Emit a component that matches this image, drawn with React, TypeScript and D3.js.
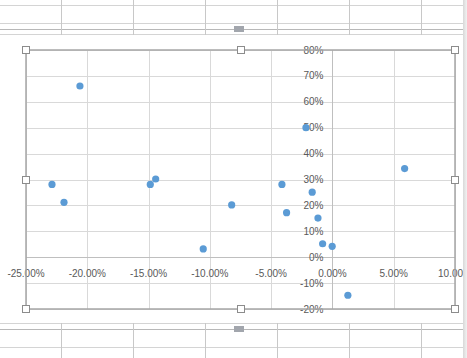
import * as d3 from "d3";
import { useEffect, useRef } from "react";

const xValues = [
  -20.6, -22.88, -21.9, -14.86, -14.42, -10.54, -8.22, -4.12, -3.74, -2.16,
  -1.65, -1.18, -0.8, -0.02, 1.26, 5.89,
];
const yValues = [
  66.1, 28.1, 21.2, 28.1, 30.2, 3.2, 20.2, 28.1, 17.2, 50.0, 25.1, 15.1, 5.2,
  4.2, -14.7, 34.2,
];
const xTicks = [-25, -20, -15, -10, -5, 0, 5, 10];
const yTicks = [-20, -10, 0, 10, 20, 30, 40, 50, 60, 70, 80];
const sheetCols = [61, 133, 205, 277, 349, 421];

const width = 467;
const height = 358;
const marginLeft = 26;
const marginRight = 12;
const marginTop = 50;
const marginBottom = 49;

export default function App() {
  const ref = useRef<SVGSVGElement>(null);

  useEffect(() => {
    const svg = d3.select(ref.current);
    svg.selectAll("*").remove();

    const x = d3.scaleLinear([-25, 10], [marginLeft, width - marginRight]);
    const y = d3.scaleLinear([-20, 80], [height - marginBottom, marginTop]);
    const font = "'Liberation Sans', Arial, sans-serif";
    const textColor = "#595959";

    svg.append("rect").attr("width", width).attr("height", height).attr("fill", "#fff");

    // spreadsheet behind the chart
    const sheet = svg.append("g").attr("stroke-width", 1).attr("shape-rendering", "crispEdges");
    const top = sheet.append("g");
    [5.5, 23.5, 34.5].forEach((yy) =>
      top.append("line").attr("x1", 0).attr("x2", 463).attr("y1", yy).attr("y2", yy).attr("stroke", "#d4d4d4")
    );
    top.append("line").attr("x1", 0).attr("x2", 463).attr("y1", 29.5).attr("y2", 29.5).attr("stroke", "#b8b8b8");
    sheetCols.forEach((cx) =>
      top.append("line").attr("x1", cx + 0.5).attr("x2", cx + 0.5).attr("y1", 0).attr("y2", 35).attr("stroke", "#c8c8c8")
    );
    const bottom = sheet.append("g");
    [323.5, 347.5].forEach((yy) =>
      bottom.append("line").attr("x1", 0).attr("x2", 463).attr("y1", yy).attr("y2", yy).attr("stroke", "#d4d4d4")
    );
    bottom.append("line").attr("x1", 0).attr("x2", 463).attr("y1", 329.5).attr("y2", 329.5).attr("stroke", "#b8b8b8");
    sheetCols.forEach((cx) =>
      bottom.append("line").attr("x1", cx + 0.5).attr("x2", cx + 0.5).attr("y1", 323).attr("y2", height).attr("stroke", "#c8c8c8")
    );
    [26, 326].forEach((hy) =>
      sheet.append("rect").attr("x", 234).attr("y", hy).attr("width", 10).attr("height", 6).attr("fill", "#a2a6ad")
    );

    // gridlines
    const grid = svg.append("g").attr("stroke", "#d9d9d9").attr("shape-rendering", "crispEdges");
    grid.selectAll("line.h").data(yTicks).join("line")
      .attr("x1", x(-25)).attr("x2", x(10))
      .attr("y1", (d) => Math.round(y(d)) + 0.5).attr("y2", (d) => Math.round(y(d)) + 0.5);
    grid.selectAll("line.v").data(xTicks).join("line")
      .attr("y1", y(80)).attr("y2", y(-20))
      .attr("x1", (d) => Math.round(x(d)) + 0.5).attr("x2", (d) => Math.round(x(d)) + 0.5);

    // axes through zero
    const axes = svg.append("g").attr("stroke", "#bfbfbf").attr("shape-rendering", "crispEdges");
    axes.append("line").attr("x1", x(-25)).attr("x2", x(10))
      .attr("y1", Math.round(y(0)) + 0.5).attr("y2", Math.round(y(0)) + 0.5);
    axes.append("line").attr("y1", y(80)).attr("y2", y(-20))
      .attr("x1", Math.round(x(0)) + 0.5).attr("x2", Math.round(x(0)) + 0.5);

    // tick labels
    svg.append("g").selectAll("text").data(yTicks).join("text")
      .attr("x", x(0) - 9).attr("y", (d) => y(d) + 3.5)
      .attr("text-anchor", "end").attr("font-family", font).attr("font-size", 10).attr("fill", textColor)
      .text((d) => `${d}%`);
    svg.append("g").selectAll("text").data(xTicks).join("text")
      .attr("x", (d) => x(d)).attr("y", y(0) + 19.5)
      .attr("text-anchor", "middle").attr("font-family", font).attr("font-size", 10).attr("fill", textColor)
      .text((d) => `${d.toFixed(2)}%`);

    // points
    svg.append("g").selectAll("circle").data(xValues).join("circle")
      .attr("cx", (d) => x(d)).attr("cy", (_, i) => y(yValues[i]))
      .attr("r", 3.6).attr("fill", "#5b9bd5");

    // selection frame with handles
    const x0 = x(-25), x1 = x(10), y0 = y(80), y1 = y(-20);
    svg.append("rect").attr("x", x0).attr("y", y0).attr("width", x1 - x0).attr("height", y1 - y0)
      .attr("fill", "none").attr("stroke", "#a6a6a6").attr("stroke-width", 1.5);
    const handles: [number, number][] = [
      [x0, y0], [(x0 + x1) / 2, y0], [x1, y0],
      [x0, (y0 + y1) / 2], [x1, (y0 + y1) / 2],
      [x0, y1], [(x0 + x1) / 2, y1], [x1, y1],
    ];
    svg.append("g").selectAll("rect").data(handles).join("rect")
      .attr("x", (d) => Math.round(d[0]) - 3.5).attr("y", (d) => Math.round(d[1]) - 3.5)
      .attr("width", 7).attr("height", 7)
      .attr("fill", "#fff").attr("stroke", "#8c8c8c").attr("stroke-width", 1);

    // window edge strip
    const grad = svg.append("defs").append("linearGradient").attr("id", "edge");
    grad.append("stop").attr("offset", "0%").attr("stop-color", "#d8d8d8");
    grad.append("stop").attr("offset", "100%").attr("stop-color", "#f2f2f2");
    svg.append("rect").attr("x", 463).attr("y", 0).attr("width", 4).attr("height", height).attr("fill", "url(#edge)");
  }, []);

  return (
    <svg
      ref={ref}
      width={width}
      height={height}
      style={{ position: "fixed", left: 0, top: 0, display: "block" }}
    />
  );
}
